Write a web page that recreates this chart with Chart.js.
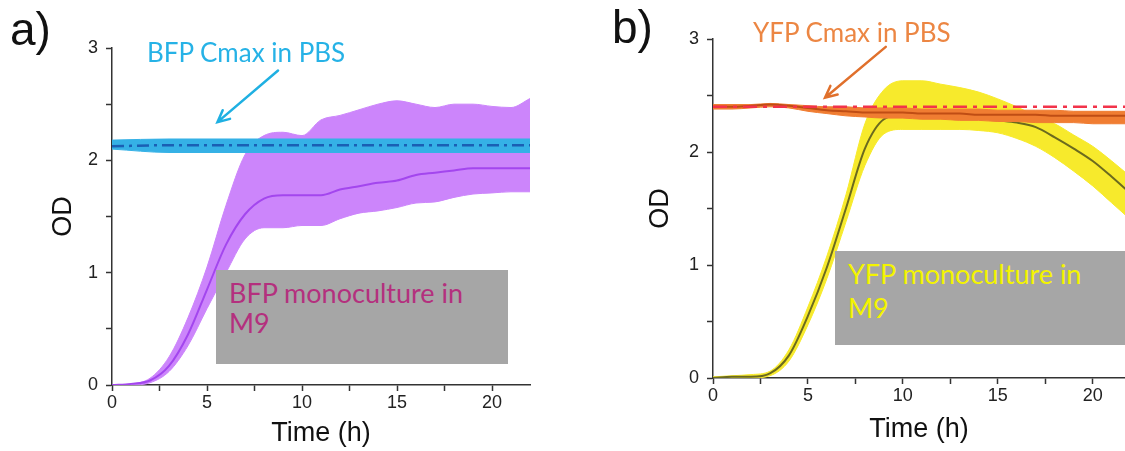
<!DOCTYPE html>
<html>
<head>
<meta charset="utf-8">
<script src="https://cdn.jsdelivr.net/npm/chart.js@4.4.1/dist/chart.umd.min.js"></script>
<style>
  body { margin: 0; background: #fff; width: 1125px; height: 451px; overflow: hidden; position: relative; }
  canvas { position: absolute; top: 0; }
  #chartA { left: 0; }
  #chartB { left: 560px; }
  .txt { position: absolute; white-space: nowrap; font-family: Lato, "Open Sans", sans-serif; line-height: 1; }
  .panel { font-family: "Liberation Sans", Arial, sans-serif; font-size: 46px; color: #111; }
  .box { position: absolute; background: #a6a6a6; font-family: Lato, "Open Sans", sans-serif; font-size: 27px; box-sizing: border-box; padding: 8px 0 0 13px; }
</style>
</head>
<body>
<canvas id="chartA" width="560" height="451"></canvas>
<canvas id="chartB" width="565" height="451"></canvas>

<div class="txt panel" style="left:10px; top:6px;">a)</div>
<div class="txt panel" style="left:612px; top:4px;">b)</div>
<div class="txt" style="left:147px; top:39px; font-size:26px; color:#26b2e6;">BFP Cmax in PBS</div>
<div class="txt" style="left:753px; top:19px; font-size:26px; color:#ec8643;">YFP Cmax in PBS</div>
<div class="box" style="left:216px; top:270px; width:292px; height:94px; line-height:30px; color:#b4307e;">BFP monoculture in<br>M9</div>
<div class="box" style="left:835px; top:251px; width:290px; height:94px; line-height:34px; padding-top:6px; color:#f4f400;">YFP monoculture in<br>M9</div>

<script>
// panel a: BFP
const timeA = [0, 1, 2, 3, 4, 5, 6, 7, 8, 9, 10, 11, 12, 13, 14, 15, 16, 17, 18, 19, 20, 21, 22];
const bfpHigh = [0, 0.01, 0.06, 0.25, 0.6, 1.05, 1.6, 2.05, 2.22, 2.25, 2.22, 2.36, 2.4, 2.45, 2.5, 2.53, 2.5, 2.47, 2.5, 2.5, 2.48, 2.47, 2.55];
const bfpMean = [0, 0.01, 0.04, 0.17, 0.45, 0.85, 1.25, 1.52, 1.66, 1.69, 1.69, 1.69, 1.74, 1.77, 1.8, 1.82, 1.87, 1.89, 1.91, 1.93, 1.93, 1.93, 1.93];
const bfpLow = [0, 0, 0.02, 0.12, 0.35, 0.68, 1.0, 1.3, 1.4, 1.4, 1.42, 1.42, 1.48, 1.53, 1.55, 1.58, 1.62, 1.63, 1.67, 1.7, 1.71, 1.72, 1.72];
const timePbsA = [0, 3, 22];
const bfpPbsHigh = [2.18, 2.19, 2.19];
const bfpPbsLow = [2.1, 2.07, 2.07];
const bfpCmax = [2.125, 2.135, 2.135];

// panel b: YFP
const timeB = [0, 1, 2, 3, 4, 5, 6, 7, 8, 9, 10, 11, 12, 13, 14, 15, 16, 17, 18, 19, 20, 21, 22];
const yfpHigh = [0.01, 0.02, 0.03, 0.06, 0.25, 0.63, 1.08, 1.62, 2.25, 2.55, 2.63, 2.63, 2.6, 2.57, 2.53, 2.47, 2.4, 2.32, 2.25, 2.15, 2.05, 1.92, 1.78];
const yfpMean = [0, 0.01, 0.01, 0.04, 0.2, 0.55, 0.98, 1.5, 2.03, 2.29, 2.33, 2.33, 2.33, 2.31, 2.3, 2.28, 2.26, 2.22, 2.13, 2.03, 1.92, 1.78, 1.63];
const yfpLow = [0, 0, 0, 0.02, 0.15, 0.47, 0.88, 1.38, 1.88, 2.16, 2.2, 2.2, 2.2, 2.2, 2.19, 2.17, 2.12, 2.05, 1.95, 1.83, 1.7, 1.55, 1.4];
const yfpPbsHigh = [2.42, 2.42, 2.42, 2.43, 2.42, 2.41, 2.40, 2.40, 2.39, 2.39, 2.39, 2.38, 2.38, 2.38, 2.38, 2.37, 2.37, 2.37, 2.37, 2.36, 2.36, 2.36, 2.36];
const yfpPbsMean = [2.40, 2.40, 2.41, 2.42, 2.41, 2.39, 2.37, 2.36, 2.35, 2.35, 2.35, 2.34, 2.34, 2.34, 2.33, 2.33, 2.33, 2.33, 2.32, 2.32, 2.32, 2.32, 2.32];
const yfpPbsLow = [2.38, 2.38, 2.39, 2.40, 2.39, 2.36, 2.34, 2.32, 2.31, 2.30, 2.30, 2.29, 2.29, 2.28, 2.28, 2.27, 2.27, 2.26, 2.26, 2.26, 2.25, 2.25, 2.25];
const timePbsB = [0, 22];
const yfpCmax = [2.4, 2.4];

const pts = (xs, ys) => xs.map((x, i) => ({ x: x, y: ys[i] }));

function line(xs, ys, color, width, extra) {
  return Object.assign({
    data: pts(xs, ys),
    borderColor: color,
    borderWidth: width,
    pointRadius: 0,
    cubicInterpolationMode: 'monotone',
    fill: false
  }, extra || {});
}

// arrow drawn between two points given in data units
const arrowPlugin = {
  id: 'arrow',
  afterDatasetsDraw(chart, args, opts) {
    if (!opts.from) return;
    const { ctx, scales: { x, y } } = chart;
    const x1 = x.getPixelForValue(opts.from[0]), y1 = y.getPixelForValue(opts.from[1]);
    const x2 = x.getPixelForValue(opts.to[0]), y2 = y.getPixelForValue(opts.to[1]);
    const ang = Math.atan2(y2 - y1, x2 - x1);
    ctx.save();
    ctx.strokeStyle = opts.color;
    ctx.lineWidth = 2.5;
    ctx.lineCap = 'round';
    ctx.beginPath();
    ctx.moveTo(x1, y1);
    ctx.lineTo(x2, y2);
    ctx.moveTo(x2 - 13 * Math.cos(ang - 0.45), y2 - 13 * Math.sin(ang - 0.45));
    ctx.lineTo(x2, y2);
    ctx.lineTo(x2 - 13 * Math.cos(ang + 0.45), y2 - 13 * Math.sin(ang + 0.45));
    ctx.stroke();
    ctx.restore();
  }
};

function makeChart(id, datasets, p) {
  const axisFont = { family: '"Liberation Sans", Arial, sans-serif', size: 18 };
  const titleFont = { family: '"Liberation Sans", Arial, sans-serif', size: 27 };
  return new Chart(document.getElementById(id), {
    type: 'line',
    data: { datasets: datasets },
    plugins: [arrowPlugin],
    options: {
      responsive: false,
      animation: false,
      devicePixelRatio: 1,
      layout: { padding: { left: 0, right: p.padRight, top: p.padTop, bottom: 0 } },
      plugins: {
        legend: { display: false },
        tooltip: { enabled: false },
        arrow: p.arrow
      },
      scales: {
        x: {
          type: 'linear',
          min: 0,
          max: p.xMax,
          afterFit: s => { s.height = p.xHeight; },
          border: { color: '#333', width: 1.5 },
          grid: { drawOnChartArea: false, tickLength: 6, tickColor: '#333', tickWidth: 1.5 },
          ticks: {
            stepSize: 2.5,
            includeBounds: false,
            maxRotation: 0,
            autoSkip: false,
            padding: 1,
            color: '#222',
            font: axisFont,
            callback: v => (v % 5 === 0 ? v : '')
          },
          title: { display: true, text: 'Time (h)', color: '#111', font: titleFont, padding: { top: 0, bottom: p.xTitlePad } }
        },
        y: {
          min: 0,
          max: 3,
          afterFit: s => { s.width = p.yWidth; },
          border: { color: '#333', width: 1.5 },
          grid: { drawOnChartArea: false, tickLength: 6, tickColor: '#333', tickWidth: 1.5 },
          ticks: {
            stepSize: 0.5,
            includeBounds: false,
            autoSkip: false,
            padding: 8,
            color: '#222',
            font: axisFont,
            callback: v => (v % 1 === 0 ? v : '')
          },
          title: { display: true, text: 'OD', color: '#111', font: titleFont, padding: { top: p.yTitlePad, bottom: 0 } }
        }
      }
    }
  });
}

// index 0 is drawn on top
makeChart('chartA', [
  line(timePbsA, bfpCmax, '#1a5fb4', 2.5, { borderDash: [12, 5, 3, 5] }),
  line(timePbsA, bfpPbsHigh, '#35b1e6', 1, { fill: '+1', backgroundColor: '#35b1e6' }),
  line(timePbsA, bfpPbsLow, '#35b1e6', 1),
  line(timeA, bfpMean, '#a346ee', 2),
  line(timeA, bfpHigh, '#cc85fb', 1, { fill: '+1', backgroundColor: '#cc85fb' }),
  line(timeA, bfpLow, '#cc85fb', 1)
], {
  xMax: 22, padRight: 30, padTop: 48, xHeight: 66, yWidth: 112, xTitlePad: 1, yTitlePad: 47,
  arrow: { from: [8.74, 2.8], to: [5.55, 2.34], color: '#1fb0e2' }
});

makeChart('chartB', [
  line(timePbsB, yfpCmax, '#f2334a', 2.5, { borderDash: [14, 6, 4, 6] }),
  line(timeB, yfpPbsMean, '#bf4d14', 2),
  line(timeB, yfpPbsHigh, '#f07d32', 1, { fill: '+1', backgroundColor: '#f07d32' }),
  line(timeB, yfpPbsLow, '#f07d32', 1),
  line(timeB, yfpMean, '#6b6a1e', 2),
  line(timeB, yfpHigh, '#f7ea2c', 1, { fill: '+1', backgroundColor: '#f7ea2c' }),
  line(timeB, yfpLow, '#f7ea2c', 1)
], {
  xMax: 21.7, padRight: 0, padTop: 39, xHeight: 73, yWidth: 153, xTitlePad: 5, yTitlePad: 84,
  arrow: { from: [9.1, 2.93], to: [5.9, 2.48], color: '#e0702c' }
});
</script>
</body>
</html>
